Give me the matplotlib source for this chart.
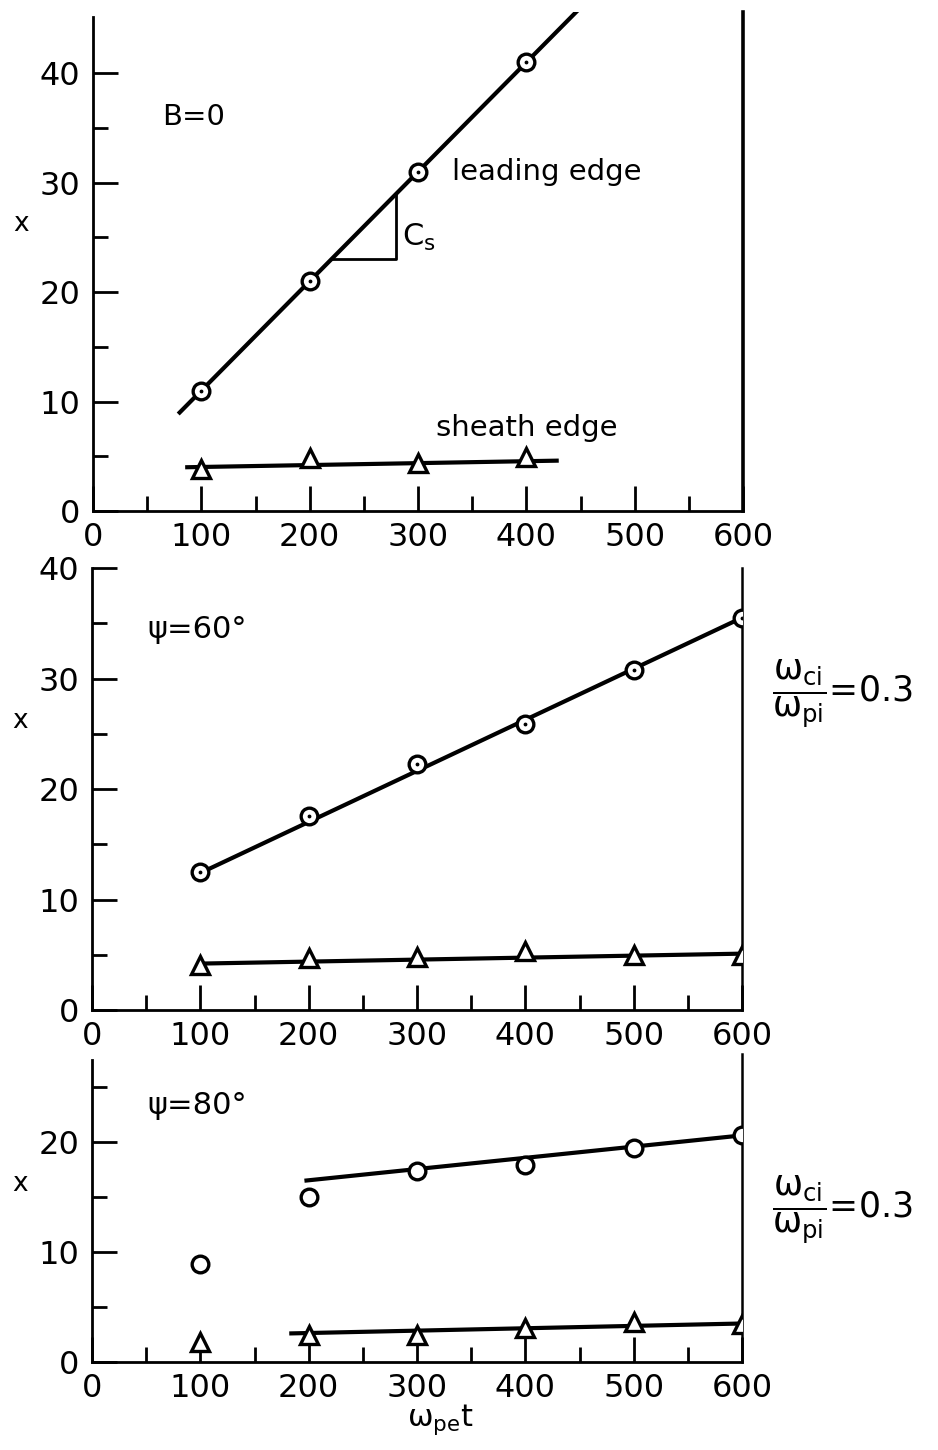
import numpy as np
import matplotlib
matplotlib.use("Agg")
import matplotlib.pyplot as plt

plt.rcParams['font.family'] = ['DejaVu Sans']
plt.rcParams['mathtext.fontset'] = 'dejavusans'

# ---- data ----
t = [100, 200, 300, 400, 500, 600]

# B = 0
b0_lead = [11.0, 21.0, 31.0, 41.0]
b0_sheath = [3.8, 4.8, 4.4, 4.9]
b0_lead_fit_x = [80, 448]
b0_lead_fit_y = [9.0, 45.8]
b0_sheath_fit_x = [87, 428]
b0_sheath_fit_y = [4.0, 4.6]
cs_x = [220, 280, 280]
cs_y = [23.0, 23.0, 29.0]

# psi = 60 deg
p60_lead = [12.5, 17.6, 22.3, 25.9, 30.8, 35.5]
p60_sheath = [4.1, 4.7, 4.8, 5.3, 5.0, 5.0]
p60_lead_fit_x = [100, 600]
p60_lead_fit_y = [12.4, 35.5]
p60_sheath_fit_x = [100, 600]
p60_sheath_fit_y = [4.2, 5.1]

# psi = 80 deg
p80_lead = [8.9, 15.0, 17.4, 17.9, 19.5, 20.6]
p80_sheath = [1.85, 2.45, 2.45, 3.05, 3.6, 3.5]
p80_lead_fit_x = [198, 600]
p80_lead_fit_y = [16.5, 20.6]
p80_sheath_fit_x = [184, 600]
p80_sheath_fit_y = [2.6, 3.5]

xticks = [0, 100, 200, 300, 400, 500, 600]

W, H = 938, 1450
fig = plt.figure(figsize=(W / 100, H / 100), dpi=100)


def panel(x0, bottom_px, top_px):
    return fig.add_axes([x0 / W, (H - bottom_px) / H, 650 / W, (bottom_px - top_px) / H])


def style(ax, ymax, yticks, yminor, left_top=None, rlw=2.2):
    ax.set_xlim(0, 600)
    ax.set_ylim(0, ymax)
    ax.spines['top'].set_visible(False)
    for s in ['left', 'bottom']:
        ax.spines[s].set_linewidth(2.0)
    ax.spines['right'].set_linewidth(rlw)
    if left_top is not None:
        ax.spines['left'].set_bounds(0, left_top)
    ax.set_xticks(xticks)
    ax.set_xticks([50, 150, 250, 350, 450, 550], minor=True)
    ax.set_yticks(yticks)
    ax.set_yticks(yminor, minor=True)
    ax.tick_params(which='both', direction='in', top=False, right=False, width=2.0,
                   labelsize=23)
    ax.tick_params(which='major', length=18)
    ax.tick_params(which='minor', length=11)
    ax.tick_params(axis='x', pad=8)
    ax.tick_params(axis='y', pad=9)
    ax.set_ylabel('x', rotation=0, fontsize=19)
    ax.yaxis.set_label_coords(-0.11, 25 / ymax if ymax > 30 else 15 / ymax)


def circles(ax, x, y, dot=True):
    ax.plot(x, y, 'o', ms=12, mfc='white', mec='black', mew=2.4, zorder=3)
    if dot:
        ax.plot(x, y, '.', ms=3.5, color='black', zorder=4)


def triangles(ax, x, y):
    ax.plot(x, y, '^', ms=13, mfc='white', mec='black', mew=2.4, zorder=3)


lw = 3.0

# ---- panel 1: B = 0 ----
ax1 = panel(93, 511, 12)
style(ax1, 45.6, [0, 10, 20, 30, 40], [5, 15, 25, 35], left_top=45.1, rlw=2.6)
ax1.plot(b0_lead_fit_x, b0_lead_fit_y, color='black', lw=lw)
ax1.plot(b0_sheath_fit_x, b0_sheath_fit_y, color='black', lw=lw)
ax1.plot(cs_x, cs_y, color='black', lw=2.0)
circles(ax1, t[:4], b0_lead)
triangles(ax1, t[:4], b0_sheath)
ax1.text(64, 36, 'B=0', fontsize=21, va='center')
ax1.text(331, 31, 'leading edge', fontsize=21, va='center')
ax1.text(317, 7.6, 'sheath edge', fontsize=21, va='center')
ax1.text(285, 25, r'$\mathregular{C_s}$', fontsize=22, va='center')

# ---- panel 2: psi = 60 ----
ax2 = panel(92, 1010, 568)
style(ax2, 40, [0, 10, 20, 30, 40], [5, 15, 25, 35], rlw=1.8)
ax2.plot(p60_lead_fit_x, p60_lead_fit_y, color='black', lw=lw)
ax2.plot(p60_sheath_fit_x, p60_sheath_fit_y, color='black', lw=lw)
circles(ax2, t, p60_lead)
triangles(ax2, t, p60_sheath)
ax2.text(51, 34.4, 'ψ=60°', fontsize=22, va='center')

# ---- panel 3: psi = 80 ----
ax3 = panel(92, 1362, 1054)
style(ax3, 28, [0, 10, 20], [5, 15, 25], left_top=27.5, rlw=1.8)
ax3.plot(p80_lead_fit_x, p80_lead_fit_y, color='black', lw=lw)
ax3.plot(p80_sheath_fit_x, p80_sheath_fit_y, color='black', lw=lw)
circles(ax3, t, p80_lead, dot=False)
triangles(ax3, t, p80_sheath)
ax3.text(51, 23.3, 'ψ=80°', fontsize=22, va='center')

ratio = r'$\dfrac{\mathrm{ω_{ci}}}{\mathrm{ω_{pi}}}$=0.3'
fig.text(772 / W, 1 - 694 / H, ratio, fontsize=25, va='center', ha='left')
fig.text(772 / W, 1 - 1210 / H, ratio, fontsize=25, va='center', ha='left')

fig.text(440 / W, 1 - 1420 / H, r'$\mathrm{ω_{pe}}$t', fontsize=22, ha='center', va='center')

fig.savefig('out.png', dpi=100)
